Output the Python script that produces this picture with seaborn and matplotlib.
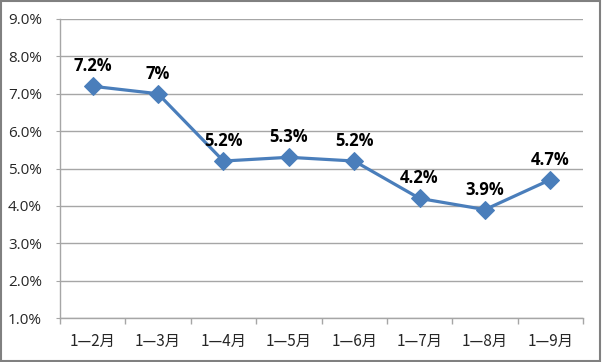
import numpy as np
import pandas as pd
import seaborn as sb
from matplotlib import pyplot as plt
from matplotlib.patches import Rectangle
from matplotlib.ticker import FixedLocator, FuncFormatter

# data
months = ['1—2月', '1—3月', '1—4月', '1—5月', '1—6月', '1—7月', '1—8月', '1—9月']
growth = [7.2, 7.0, 5.2, 5.3, 5.2, 4.2, 3.9, 4.7]
point_labels = ['7.2%', '7%', '5.2%', '5.3%', '5.2%', '4.2%', '3.9%', '4.7%']

df = pd.DataFrame({'pos': np.arange(len(months)), 'growth': growth})

sb.set_style('white')
plt.rcParams['font.family'] = ['Open Sans', 'Noto Sans CJK SC', 'DejaVu Sans']

fig = plt.figure(figsize=(6.02, 3.62), dpi=100)
ax = fig.add_axes([60 / 602, 1 - 318 / 362, 523 / 602, 299 / 362])

sb.lineplot(data=df, x='pos', y='growth', ax=ax, color='#4A7EBB', linewidth=2.3,
            marker='D', markersize=9, markeredgecolor='#4A7EBB', markerfacecolor='#4A7EBB')

for x, y, lab in zip(df['pos'], df['growth'], point_labels):
    ax.annotate(lab, (x, y), xytext=(0, 8), textcoords='offset points',
                ha='center', va='bottom', fontsize=12, fontweight='bold', color='black')

ax.set_xlim(-0.5, len(months) - 0.5)
ax.set_ylim(1.0, 9.0)
ax.set_yticks(np.arange(1.0, 9.01, 1.0))
ax.yaxis.set_major_formatter(FuncFormatter(lambda v, p: f'{v:.1f}%'))
ax.grid(axis='y', color='#A6A6A6', linewidth=1)
ax.set_axisbelow(True)

ax.xaxis.set_major_locator(FixedLocator(np.arange(-0.5, len(months), 1.0)))
ax.xaxis.set_major_formatter(FuncFormatter(lambda v, p: ''))
ax.xaxis.set_minor_locator(FixedLocator(np.arange(len(months))))
ax.set_xticklabels(months, minor=True, family=['Noto Sans CJK SC'])
ax.tick_params(axis='x', which='major', length=4, color='#A6A6A6', width=1, direction='out')
ax.tick_params(axis='x', which='minor', length=0, labelsize=11, pad=11)
ax.tick_params(axis='y', length=3, color='#A6A6A6', labelsize=11, pad=10)
ax.tick_params(bottom=True, left=True)

for side in ['top', 'right']:
    ax.spines[side].set_visible(False)
for side in ['left', 'bottom']:
    ax.spines[side].set_color('#A6A6A6')
    ax.spines[side].set_linewidth(1)

ax.set_xlabel('')
ax.set_ylabel('')

fig.patches.append(Rectangle((0.002, 0.004), 0.994, 0.992, transform=fig.transFigure,
                             fill=False, edgecolor='#808080', linewidth=1.5))

plt.savefig('out.png', dpi=100)
